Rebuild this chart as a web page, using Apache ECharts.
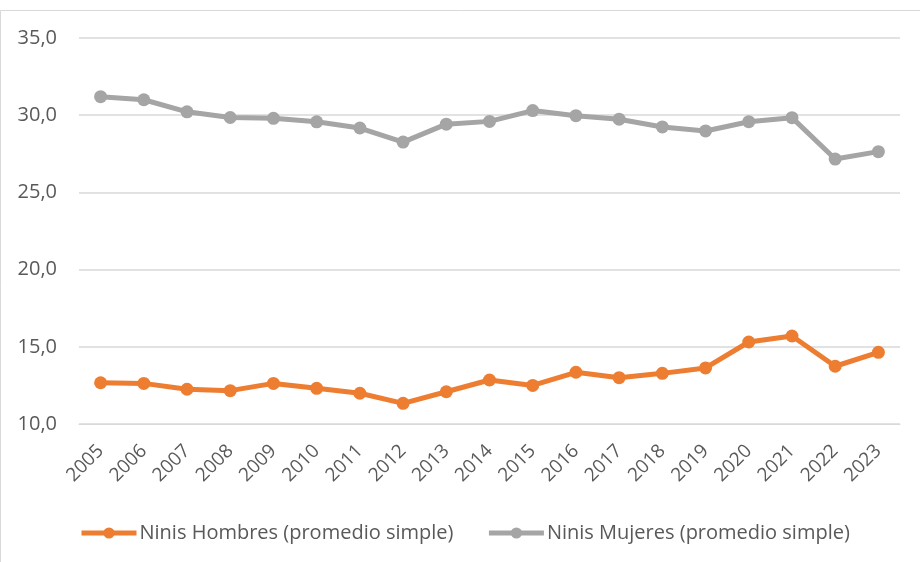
<!DOCTYPE html>
<html><head><meta charset="utf-8">
<script src="https://cdn.jsdelivr.net/npm/echarts@6/dist/echarts.min.js"></script>
<style>html,body{margin:0;padding:0;background:#fff}#c{width:920px;height:562px}</style>
</head><body><div id="c"></div>
<script>
const years = ['2005','2006','2007','2008','2009','2010','2011','2012','2013','2014','2015','2016','2017','2018','2019','2020','2021','2022','2023'];
const hombres = [12.67,12.63,12.25,12.16,12.63,12.31,11.99,11.34,12.09,12.85,12.50,13.35,13.00,13.28,13.63,15.31,15.70,13.74,14.64];
const mujeres = [31.20,31.00,30.22,29.85,29.80,29.57,29.17,28.26,29.42,29.60,30.30,29.97,29.74,29.24,28.98,29.58,29.84,27.16,27.64];
const yTicks = {min:10, max:35, interval:5};
const names = ['Ninis Hombres (promedio simple)','Ninis Mujeres (promedio simple)'];
const FONT = "'Open Sans', sans-serif";
const chart = echarts.init(document.getElementById('c'));
chart.setOption({
  animation:false,
  textStyle:{fontFamily:FONT},
  graphic:[{type:'rect',shape:{x:0.5,y:10.5,width:960,height:600},style:{fill:'none',stroke:'#D9D9D9',lineWidth:1},silent:true}],
  grid:{left:79,right:20,top:38,bottom:138},
  legend:{top:518,left:74,itemWidth:55,itemHeight:14,itemGap:33,
    lineStyle:{width:5},
    textStyle:{color:'#595959',fontSize:20,fontFamily:FONT,padding:[0,0,0,-2]},
    data:names},
  xAxis:{type:'category',data:years,boundaryGap:true,
    axisLine:{lineStyle:{color:'#D9D9D9'}},axisTick:{show:false},
    axisLabel:{rotate:45,color:'#595959',fontSize:19,margin:24,fontFamily:FONT}},
  yAxis:{type:'value',min:yTicks.min,max:yTicks.max,interval:yTicks.interval,
    axisLine:{show:false},axisTick:{show:false},
    splitLine:{lineStyle:{color:'#D9D9D9',width:1.5}},
    axisLabel:{color:'#595959',fontSize:20,margin:22,fontFamily:FONT,
      formatter:v=>v.toFixed(1).replace('.',',')}},
  series:[
    {name:names[0],type:'line',data:hombres,symbol:'circle',symbolSize:13,
      itemStyle:{color:'#ED7D31'},lineStyle:{color:'#ED7D31',width:5}},
    {name:names[1],type:'line',data:mujeres,symbol:'circle',symbolSize:13,
      itemStyle:{color:'#A5A5A5'},lineStyle:{color:'#A5A5A5',width:5}}
  ]
});
</script></body></html>
